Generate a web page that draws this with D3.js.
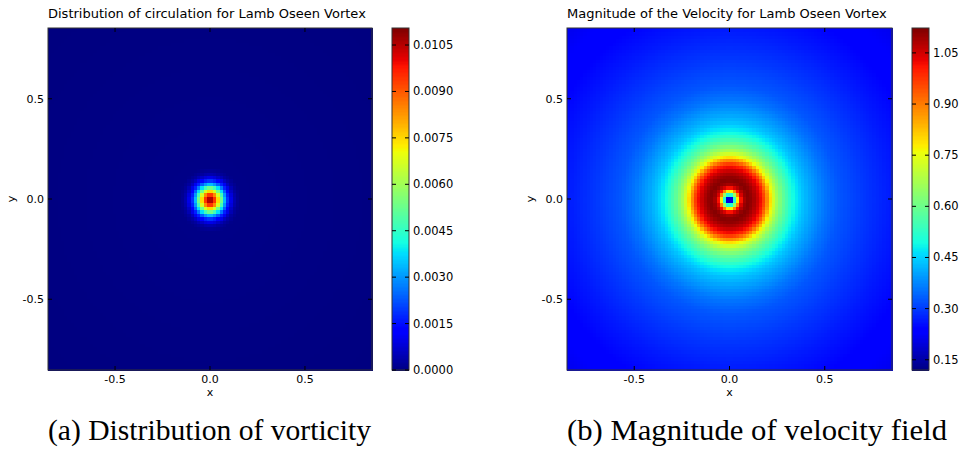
<!DOCTYPE html>
<html>
<head>
<meta charset="utf-8">
<script src="https://cdn.jsdelivr.net/npm/d3@7"></script>
<style>
  body { margin: 0; background: #fff; }
  svg { display: block; }
</style>
</head>
<body>
<div id="container"></div>
<script>
// grid of the field, in data units
const gridN = 100;
const gridExtent = [-0.853, 0.853];
const axisTicks = [-0.5, 0.0, 0.5];

// radial profile of vorticity
const vortRadius = [0, 0.017, 0.034, 0.051, 0.068, 0.085, 0.102, 0.119, 0.136, 0.16, 1.25];
const vortValues = [0.01100, 0.01040, 0.00875, 0.00655, 0.00435, 0.00260, 0.00138, 0.00065, 0.00027, 0.00007, 0];
const vortDomain = [0, 0.01105];
const vortTicks = [0.0000, 0.0015, 0.0030, 0.0045, 0.0060, 0.0075, 0.0090, 0.0105];

// radial profile of velocity magnitude
const velRadius = [0, 0.012, 0.026, 0.042, 0.053, 0.063, 0.08, 0.1, 0.12, 0.14, 0.16, 0.175, 0.2, 0.22, 0.25, 0.28, 0.33, 0.38, 0.42, 0.5, 0.57, 0.7, 0.85, 1.0, 1.25];
const velValues = [0.12, 0.2, 0.5, 0.75, 0.95, 1.04, 1.1, 1.12, 1.1, 1.07, 1.03, 0.99, 0.87, 0.76, 0.66, 0.59, 0.5, 0.44, 0.41, 0.36, 0.33, 0.3, 0.27, 0.245, 0.21];
const velDomain = [0.12, 1.123];
const velTicks = [0.15, 0.30, 0.45, 0.60, 0.75, 0.90, 1.05];

const titles = ["Distribution of circulation for Lamb Oseen Vortex", "Magnitude of the Velocity for Lamb Oseen Vortex"];
const captions = ["(a) Distribution of vorticity", "(b) Magnitude of velocity field"];

// matplotlib "jet"
const jetR = d3.scaleLinear().domain([0, 0.35, 0.66, 0.89, 1]).range([0, 0, 1, 1, 0.5]).clamp(true);
const jetG = d3.scaleLinear().domain([0, 0.125, 0.375, 0.64, 0.91, 1]).range([0, 0, 1, 1, 0, 0]).clamp(true);
const jetB = d3.scaleLinear().domain([0, 0.11, 0.34, 0.65, 1]).range([0.5, 1, 1, 0, 0]).clamp(true);
const jet = t => d3.rgb(jetR(t) * 255, jetG(t) * 255, jetB(t) * 255).formatHex();

const W = 961, H = 457;
const svg = d3.select("#container").append("svg").attr("width", W).attr("height", H);
const font = "DejaVu Sans";

function drawPanel(p) {
  const x = d3.scaleLinear().domain(gridExtent).range([p.left, p.right]);
  const y = d3.scaleLinear().domain(gridExtent).range([p.bottom, p.top]);
  const idx = d3.scaleLinear().domain([0, gridN]).range(gridExtent);
  const profile = d3.scaleLinear().domain(p.radius).range(p.values).clamp(true);
  const norm = d3.scaleLinear().domain(p.domain).range([0, 1]).clamp(true);

  const cells = [];
  for (let i = 0; i < gridN; i++) {
    for (let j = 0; j < gridN; j++) {
      const cx = (idx(i) + idx(i + 1)) / 2, cy = (idx(j) + idx(j + 1)) / 2;
      cells.push({i, j, v: profile(Math.hypot(cx, cy))});
    }
  }

  const g = svg.append("g");
  g.append("g").attr("shape-rendering", "crispEdges")
    .selectAll("rect")
    .data(cells)
    .join("rect")
    .attr("x", d => Math.round(x(idx(d.i))))
    .attr("y", d => Math.round(y(idx(d.j + 1))))
    .attr("width", d => Math.round(x(idx(d.i + 1))) - Math.round(x(idx(d.i))) + 1)
    .attr("height", d => Math.round(y(idx(d.j))) - Math.round(y(idx(d.j + 1))) + 1)
    .attr("fill", d => jet(norm(d.v)));

  // frame
  g.append("rect")
    .attr("x", p.left).attr("y", p.top)
    .attr("width", p.right - p.left).attr("height", p.bottom - p.top)
    .attr("fill", "none").attr("stroke", "#333").attr("stroke-width", 1);

  // inward ticks on all sides
  axisTicks.forEach(t => {
    g.append("line").attr("x1", x(t)).attr("x2", x(t)).attr("y1", p.bottom).attr("y2", p.bottom - 4).attr("stroke", "#000");
    g.append("line").attr("x1", x(t)).attr("x2", x(t)).attr("y1", p.top).attr("y2", p.top + 4).attr("stroke", "#000");
    g.append("line").attr("y1", y(t)).attr("y2", y(t)).attr("x1", p.left).attr("x2", p.left + 4).attr("stroke", "#000");
    g.append("line").attr("y1", y(t)).attr("y2", y(t)).attr("x1", p.right).attr("x2", p.right - 4).attr("stroke", "#000");
  });

  g.selectAll("text.xt").data(axisTicks).join("text")
    .attr("x", d => x(d)).attr("y", p.bottom + 13)
    .attr("text-anchor", "middle")
    .attr("font-family", font).attr("font-size", "11px")
    .text(d => d3.format(".1f")(d).replace("−", "-"));
  g.selectAll("text.yt").data(axisTicks).join("text")
    .attr("x", p.left - 4).attr("y", d => y(d) + 4)
    .attr("text-anchor", "end")
    .attr("font-family", font).attr("font-size", "11px")
    .text(d => d3.format(".1f")(d).replace("−", "-"));

  g.append("text").attr("x", (p.left + p.right) / 2).attr("y", p.bottom + 26)
    .attr("text-anchor", "middle").attr("font-family", font).attr("font-size", "11px").text("x");
  g.append("text").attr("transform", `translate(${p.left - 33},${(p.top + p.bottom) / 2}) rotate(-90)`)
    .attr("text-anchor", "middle").attr("font-family", font).attr("font-size", "11px").text("y");

  g.append("text").attr("x", p.left).attr("y", p.top - 10)
    .attr("font-family", font).attr("font-size", "13px").text(p.title);

  // colorbar
  const cb = d3.scaleLinear().domain(p.domain).range([p.bottom, p.top]);
  const steps = d3.range(256);
  g.append("g").attr("shape-rendering", "crispEdges")
    .selectAll("rect").data(steps).join("rect")
    .attr("x", p.cbx).attr("width", 17)
    .attr("y", k => cb(p.domain[0] + (k + 1) / 256 * (p.domain[1] - p.domain[0])))
    .attr("height", (p.bottom - p.top) / 256 + 1)
    .attr("fill", k => jet((k + 0.5) / 256));
  g.append("rect").attr("x", p.cbx).attr("y", p.top).attr("width", 17).attr("height", p.bottom - p.top)
    .attr("fill", "none").attr("stroke", "#333");
  p.ticks.forEach(t => {
    g.append("line").attr("x1", p.cbx + 17).attr("x2", p.cbx + 13).attr("y1", cb(t)).attr("y2", cb(t)).attr("stroke", "#000");
    g.append("line").attr("x1", p.cbx).attr("x2", p.cbx + 4).attr("y1", cb(t)).attr("y2", cb(t)).attr("stroke", "#000");
  });
  g.selectAll("text.cbt").data(p.ticks).join("text")
    .attr("x", p.cbx + 21).attr("y", d => cb(d) + 4)
    .attr("font-family", font).attr("font-size", "11.5px")
    .text(d => d3.format(p.fmt)(d));

  g.append("text").attr("x", p.left).attr("y", 440)
    .attr("font-family", "Liberation Serif").attr("font-size", "29px")
    .attr("textLength", p.capWidth).attr("lengthAdjust", "spacingAndGlyphs")
    .text(p.caption);
}

drawPanel({left: 48, right: 372, top: 28, bottom: 370, cbx: 392,
  radius: vortRadius, values: vortValues, domain: vortDomain, ticks: vortTicks, fmt: ".4f",
  title: titles[0], caption: captions[0], capWidth: 323});
drawPanel({left: 567, right: 892, top: 28, bottom: 370, cbx: 912,
  radius: velRadius, values: velValues, domain: velDomain, ticks: velTicks, fmt: ".2f",
  title: titles[1], caption: captions[1], capWidth: 380});
</script>
</body>
</html>
